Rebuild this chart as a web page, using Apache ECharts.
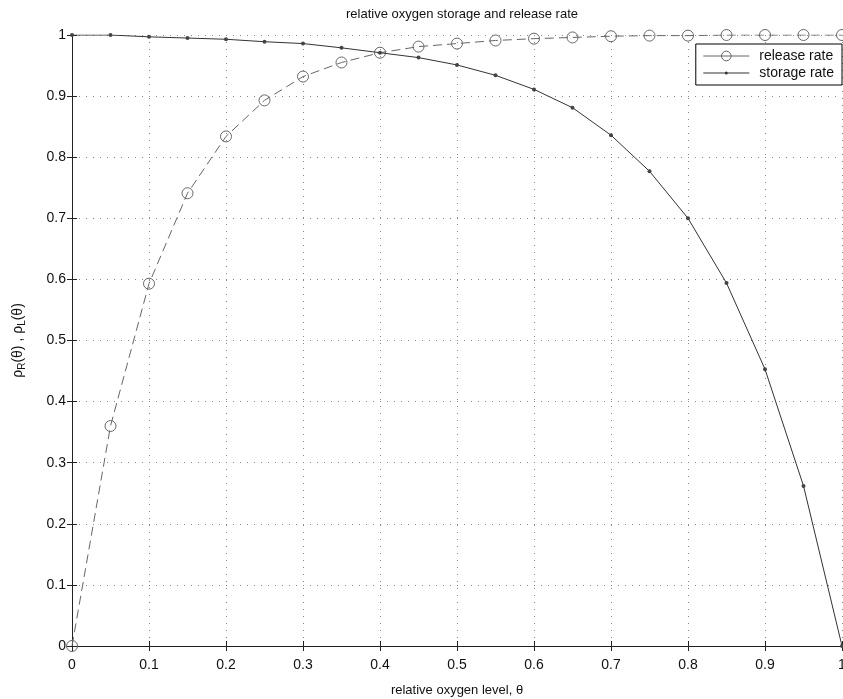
<!DOCTYPE html>
<html>
<head>
<meta charset="utf-8">
<script src="https://cdn.jsdelivr.net/npm/echarts@6/dist/echarts.min.js"></script>
<style>
  html, body { margin: 0; padding: 0; background: #fff; }
  #chart { width: 843px; height: 699px; }
</style>
</head>
<body>
<div id="chart"></div>
<script>
// relative oxygen level
var theta = [0, 0.05, 0.1, 0.15, 0.2, 0.25, 0.3, 0.35, 0.4, 0.45, 0.5,
  0.55, 0.6, 0.65, 0.7, 0.75, 0.8, 0.85, 0.9, 0.95, 1];
var releaseRate = [0, 0.36, 0.593, 0.741, 0.834, 0.893, 0.932, 0.955, 0.971, 0.981, 0.986,
  0.991, 0.994, 0.996, 0.998, 0.999, 0.999, 1, 1, 1, 1];
var storageRate = [1, 1, 0.997, 0.995, 0.993, 0.989, 0.986, 0.979, 0.971, 0.963, 0.951,
  0.934, 0.911, 0.881, 0.836, 0.777, 0.700, 0.594, 0.453, 0.262, 0];

var font = 'Liberation Sans, Arial, sans-serif';

function pairs(xs, ys) {
  return xs.map(function (x, i) { return [x, ys[i]]; });
}

var myChart = echarts.init(document.getElementById('chart'));

var gridLine = {
  show: true,
  lineStyle: { color: '#888', type: [1, 6], width: 1 }
};
var tick = { show: true, inside: true, length: 5, lineStyle: { color: '#222' } };
var axLine = { show: true, lineStyle: { color: '#222', width: 1 } };

// line with a small dot, for the storage rate legend entry
var dotLineIcon = 'path://M0,0 M46,12 M0,5.5 L46,5.5 L46,6.5 L0,6.5 Z ' +
  'M21.5,6 a1.5,1.5 0 1,1 3,0 a1.5,1.5 0 1,1 -3,0 Z';

var option = {
  animation: false,
  title: {
    text: 'relative oxygen storage and release rate',
    left: 457,
    textAlign: 'center',
    top: 3,
    textStyle: { fontFamily: font, fontSize: 13, fontWeight: 'normal', color: '#111' }
  },
  grid: { left: 72, right: 1, top: 35, bottom: 53, containLabel: false, outerBoundsMode: 'none' },
  legend: {
    right: 1,
    top: 44,
    orient: 'vertical',
    itemWidth: 46,
    itemHeight: 12,
    itemGap: 3,
    padding: [5, 8, 5, 7],
    borderColor: '#000',
    borderWidth: 1,
    borderRadius: 0,
    backgroundColor: '#fff',
    textStyle: { fontFamily: font, fontSize: 14, color: '#111', padding: [0, 0, 0, 5] },
    lineStyle: { width: 1, type: 'solid' },
    itemStyle: { borderWidth: 1 },
    data: [
      { name: 'release rate' },
      { name: 'storage rate', icon: dotLineIcon, itemStyle: { color: '#333', borderWidth: 0 } }
    ]
  },
  xAxis: [{
    type: 'value',
    min: 0, max: 1, interval: 0.1,
    name: 'relative oxygen level, θ',
    nameLocation: 'middle',
    nameGap: 38,
    nameTextStyle: { fontFamily: font, fontSize: 13, color: '#111' },
    axisLine: axLine,
    axisTick: tick,
    splitLine: gridLine,
    axisLabel: { fontFamily: font, fontSize: 14, color: '#111', margin: 12 }
  }, {
    type: 'value',
    position: 'top',
    min: 0, max: 1, interval: 0.1,
    axisLine: axLine,
    axisTick: tick,
    splitLine: { show: false },
    axisLabel: { show: false }
  }],
  yAxis: [{
    type: 'value',
    min: 0, max: 1, interval: 0.1,
    name: '{a|ρ}{s|R}{a|(θ) , ρ}{s|L}{a|(θ)}',
    nameLocation: 'middle',
    nameGap: 44,
    nameRotate: 90,
    nameTextStyle: {
      fontFamily: font, color: '#111',
      rich: {
        a: { fontFamily: font, fontSize: 14, color: '#111', lineHeight: 20 },
        s: { fontFamily: font, fontSize: 10, color: '#111', lineHeight: 20, padding: [8, 0, 0, 0] }
      }
    },
    axisLine: axLine,
    axisTick: tick,
    splitLine: gridLine,
    axisLabel: { fontFamily: font, fontSize: 14, color: '#111', margin: 6 }
  }, {
    type: 'value',
    position: 'right',
    min: 0, max: 1, interval: 0.1,
    axisLine: axLine,
    axisTick: tick,
    splitLine: { show: false },
    axisLabel: { show: false }
  }],
  series: [{
    name: 'release rate',
    type: 'line',
    data: pairs(theta, releaseRate),
    symbol: 'circle',
    symbolSize: 11,
    lineStyle: { color: '#666', width: 1, type: [9, 5] },
    itemStyle: { color: 'rgba(255,255,255,0)', borderColor: '#666', borderWidth: 1 },
    z: 2
  }, {
    name: 'storage rate',
    type: 'line',
    data: pairs(theta, storageRate),
    symbol: 'circle',
    symbolSize: 4,
    lineStyle: { color: '#333', width: 1 },
    itemStyle: { color: '#444' },
    z: 3
  }]
};

myChart.setOption(option);
</script>
</body>
</html>
